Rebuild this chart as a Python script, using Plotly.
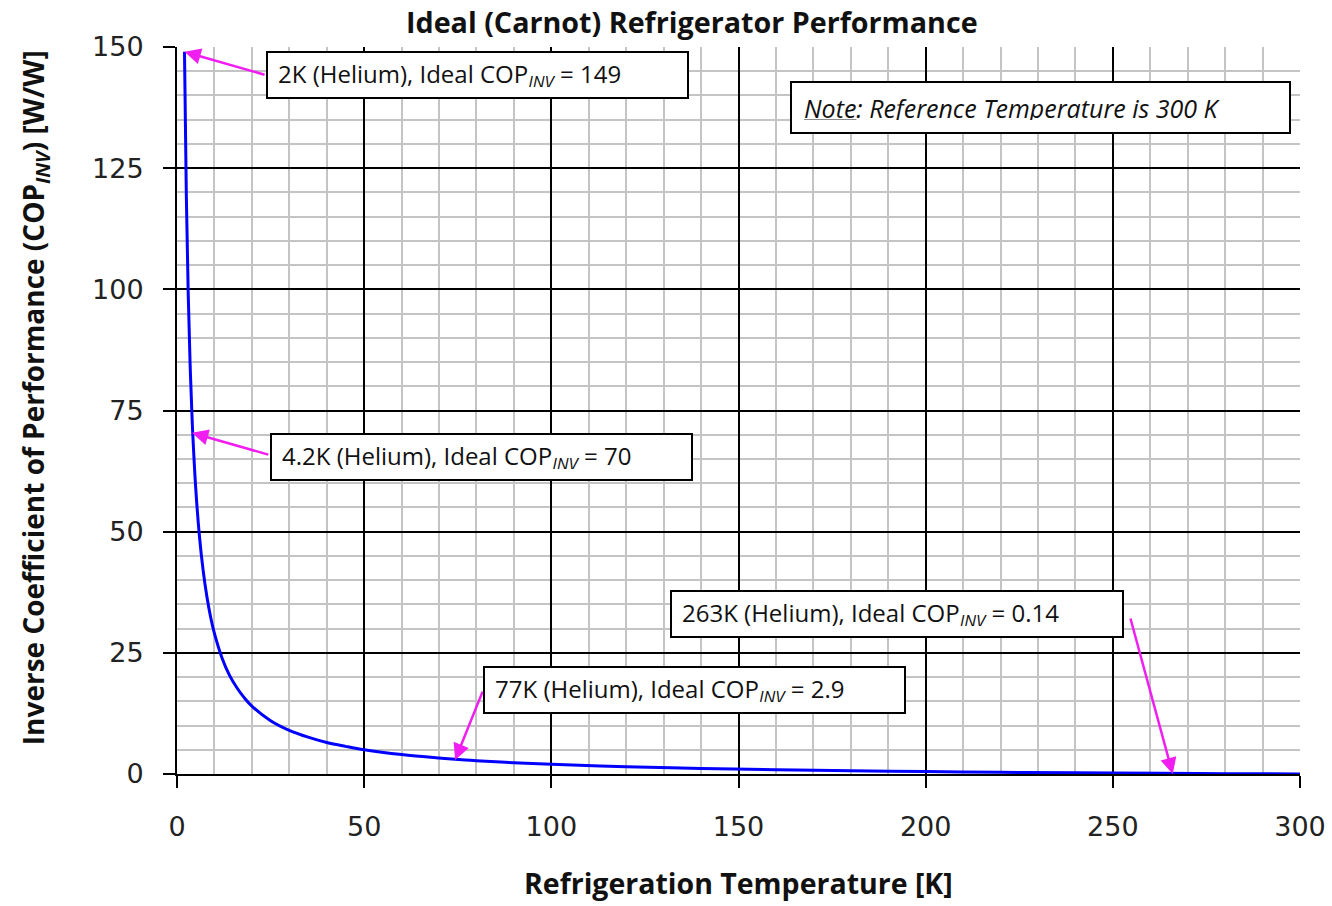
import plotly.graph_objects as go

# Curve: refrigeration temperature [K] vs ideal inverse COP [W/W]
temp_k = [2, 2.5, 3, 3.5, 4, 4.2, 5, 6, 7, 8, 9, 10, 12, 14, 16, 18, 20, 25, 30,
          35, 40, 45, 50, 60, 70, 77, 80, 90, 100, 120, 140, 160, 180, 200, 220,
          240, 263, 280, 300]
cop_inv = [149, 119, 99, 84.7, 74, 70.4, 59, 49, 41.9, 36.5, 32.3, 29, 24, 20.4,
           17.8, 15.7, 14, 11, 9, 7.6, 6.5, 5.7, 5, 4, 3.3, 2.9, 2.75, 2.33, 2.0,
           1.5, 1.14, 0.88, 0.67, 0.5, 0.36, 0.25, 0.14, 0.07, 0.0]

x_ticks = [0, 50, 100, 150, 200, 250, 300]
y_ticks = [0, 25, 50, 75, 100, 125, 150]

callout_text = [
    "2K (Helium), Ideal COP<sub><i>INV</i></sub> = 149",
    "4.2K (Helium), Ideal COP<sub><i>INV</i></sub> = 70",
    "77K (Helium), Ideal COP<sub><i>INV</i></sub> = 2.9",
    "263K (Helium), Ideal COP<sub><i>INV</i></sub> = 0.14",
]
callout_box_x = [23.8, 24.8, 81.8, 131.7]
callout_box_y = [144.2, 65.4, 17.3, 33.0]
callout_box_w = [427, 427, 427, 458]
arrow_tip_x = [2.0, 4.0, 74.3, 266.0]
arrow_tip_y = [149.0, 70.4, 2.9, 0.0]
arrow_start_x = [23.8, 24.8, 81.8, 254.6]
arrow_start_y = [144.2, 65.8, 17.3, 32.4]

MAGENTA = "#F01EF0"
TEXT_FONT = "Open Sans, Lato, sans-serif"

fig = go.Figure()
fig.add_trace(go.Scatter(x=temp_k, y=cop_inv, mode="lines",
                         line=dict(color="#0000FF", width=3, shape="spline"),
                         hoverinfo="x+y", showlegend=False))

axis_common = dict(
    showline=True, linecolor="black", linewidth=2,
    gridcolor="black", gridwidth=2,
    ticks="outside", ticklen=12, tickwidth=2, tickcolor="black",
    tickfont=dict(family="DejaVu Sans", size=27, color="#222"),
    zeroline=False, mirror=False, automargin=False,
)
fig.update_xaxes(range=[0, 300], tickvals=x_ticks, ticklabelstandoff=16,
                 ticklabeloverflow="allow",
                 minor=dict(dtick=10, showgrid=True, gridcolor="#C4C4C4", gridwidth=2),
                 **axis_common)
fig.update_yaxes(range=[0, 150], tickvals=y_ticks, ticklabelstandoff=14,
                 minor=dict(dtick=5, showgrid=True, gridcolor="#C4C4C4", gridwidth=2),
                 **axis_common)

annotations = []
annotations.append(dict(text="<b>Ideal (Carnot) Refrigerator Performance</b>",
                        xref="paper", yref="paper", x=0.4586, y=1.0344,
                        xanchor="center", yanchor="middle", showarrow=False,
                        font=dict(family=TEXT_FONT, size=28.7, color="#111")))
annotations.append(dict(text="<b>Refrigeration Temperature [K]</b>",
                        xref="paper", yref="paper", x=0.4996, y=-0.150,
                        xanchor="center", yanchor="middle", showarrow=False,
                        font=dict(family=TEXT_FONT, size=28.5, color="#111")))
annotations.append(dict(text="<b>Inverse Coefficient of Performance (COP<sub><i>INV</i></sub>) [W/W]</b>",
                        xref="paper", yref="paper", x=-0.1264, y=0.517,
                        xanchor="center", yanchor="middle", showarrow=False,
                        textangle=-90,
                        font=dict(family=TEXT_FONT, size=28, color="#111")))

for tx, ty, sx, sy in zip(arrow_tip_x, arrow_tip_y, arrow_start_x, arrow_start_y):
    annotations.append(dict(text="", x=tx, y=ty, ax=sx, ay=sy,
                            xref="x", yref="y", axref="x", ayref="y",
                            showarrow=True, arrowhead=2, arrowsize=1.3,
                            arrowwidth=2.5, arrowcolor=MAGENTA, standoff=0))

for txt, bx, by, bw in zip(callout_text, callout_box_x, callout_box_y, callout_box_w):
    annotations.append(dict(text=txt, x=bx, y=by, xref="x", yref="y",
                            xanchor="left", yanchor="middle", showarrow=False,
                            align="left", width=bw - 28, height=24, borderpad=10,
                            bordercolor="black", borderwidth=2, bgcolor="white",
                            font=dict(family=TEXT_FONT, size=24, color="#111")))

annotations.append(dict(text="<i><u>Note</u>: Reference Temperature is 300 K</i>",
                        x=163.8, y=137.6, xref="x", yref="y",
                        xanchor="left", yanchor="middle", showarrow=False,
                        align="left", width=505 - 32, height=25, borderpad=12,
                        bordercolor="black", borderwidth=2, bgcolor="white",
                        font=dict(family=TEXT_FONT, size=25, color="#111")))

fig.update_layout(
    width=1332, height=906,
    margin=dict(l=177, r=32, t=47, b=132, autoexpand=False),
    plot_bgcolor="white", paper_bgcolor="white",
    annotations=annotations,
    showlegend=False,
)

# Remove the default 8px page margin so the figure sits at the window corner.
fig.write_html("out.html",
               config={"displayModeBar": False},
               post_script="document.body.style.margin='0';document.body.style.overflow='hidden';")
